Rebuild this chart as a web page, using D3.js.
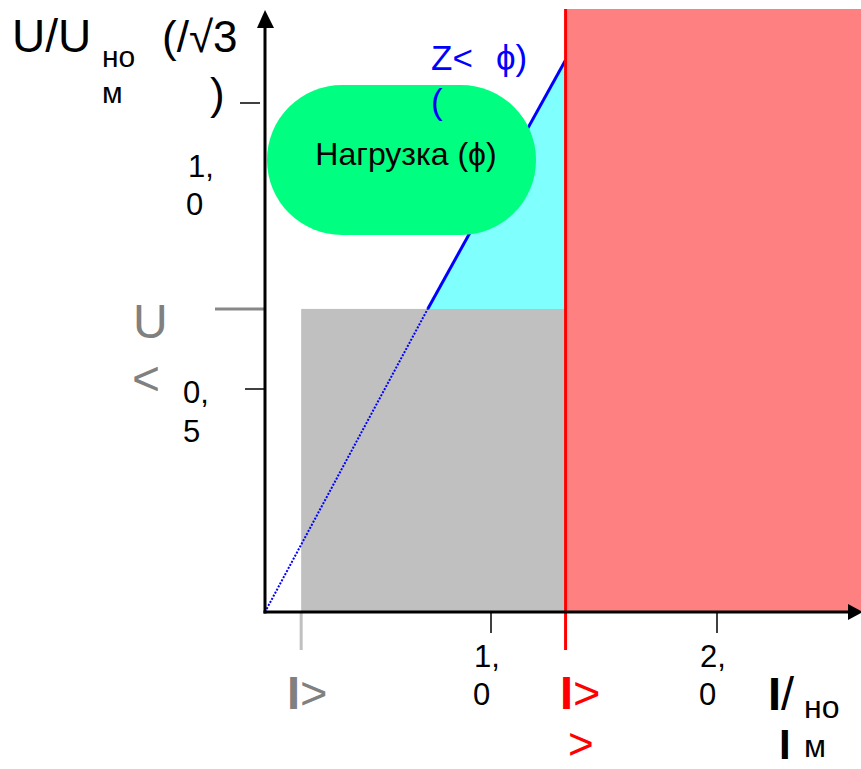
<!DOCTYPE html>
<html>
<head>
<meta charset="utf-8">
<script src="https://cdn.jsdelivr.net/npm/d3@7"></script>
<style>
  body { margin: 0; background: #fff; }
  svg { display: block; font-family: "Liberation Sans", Arial, sans-serif; }
</style>
</head>
<body>
<div id="wrapper"></div>
<script>
// values (I/Iном on x, U/Uном on y)
const xTicks = [1.0, 2.0]
const yTicks = [0.5, 1.0]
const xTickLabels = [["1,", "0"], ["2,", "0"]]
const yTickLabels = [["0,", "5"], ["1,", "0"]]

const iLow = 0.16      // I>
const iHigh = 1.33     // I>>
const uLow = 0.64      // U<
const zLine = [
  { i: 0, u: 0 },
  { i: 0.72, u: 0.64 },
  { i: 1.33, u: 1.075 },
]
const loadText = "Нагрузка (ϕ)"

function drawChart() {
  const width = 861
  const height = 769

  const svg = d3.select("#wrapper")
    .append("svg")
      .attr("width", width)
      .attr("height", height)

  // scales - y axis is not evenly spaced in the original, so piecewise
  const xScale = d3.scaleLinear()
    .domain([0, 2])
    .range([265, 717])
  const yScale = d3.scaleLinear()
    .domain([0, 0.5, 1])
    .range([612, 389, 103])

  const iMax = xScale.invert(width)
  const uMax = yScale.invert(9)

  // red zone (I>>)
  svg.append("rect")
    .attr("x", xScale(iHigh))
    .attr("y", yScale(uMax))
    .attr("width", xScale(iMax) - xScale(iHigh))
    .attr("height", yScale(0) - yScale(uMax))
    .attr("fill", "#ff8080")

  // gray zone (I> and U<)
  svg.append("rect")
    .attr("x", xScale(iLow))
    .attr("y", yScale(uLow))
    .attr("width", xScale(iHigh) - xScale(iLow))
    .attr("height", yScale(0) - yScale(uLow))
    .attr("fill", "#c0c0c0")

  // cyan triangle under Z< line
  const tri = [zLine[1], zLine[2], { i: zLine[2].i, u: zLine[1].u }]
  svg.append("path")
    .attr("d", d3.line().x(d => xScale(d.i)).y(d => yScale(d.u))(tri) + "Z")
    .attr("fill", "#80ffff")

  const lineGen = d3.line()
    .x(d => xScale(d.i))
    .y(d => yScale(d.u))

  svg.append("path")
    .attr("d", lineGen(zLine.slice(0, 2)))
    .attr("fill", "none")
    .attr("stroke", "#0000ff")
    .attr("stroke-width", 2)
    .attr("stroke-dasharray", "2,1.5")

  svg.append("path")
    .attr("d", lineGen(zLine.slice(1)))
    .attr("fill", "none")
    .attr("stroke", "#0000ff")
    .attr("stroke-width", 3)

  // load area
  svg.append("rect")
    .attr("x", 267)
    .attr("y", 85)
    .attr("width", 269)
    .attr("height", 150)
    .attr("rx", 75)
    .attr("ry", 75)
    .attr("fill", "#00ff80")
  svg.append("text")
    .attr("x", 406)
    .attr("y", 165)
    .attr("text-anchor", "middle")
    .style("font-size", "32px")
    .text(loadText)

  // red vertical I>> line
  svg.append("line")
    .attr("x1", xScale(iHigh)).attr("x2", xScale(iHigh))
    .attr("y1", yScale(uMax)).attr("y2", 650)
    .attr("stroke", "#ff0000")
    .attr("stroke-width", 3)

  // I> tick
  svg.append("line")
    .attr("x1", xScale(iLow)).attr("x2", xScale(iLow))
    .attr("y1", yScale(0)).attr("y2", 650)
    .attr("stroke", "#c0c0c0")
    .attr("stroke-width", 3)

  // U< tick
  svg.append("line")
    .attr("x1", 215).attr("x2", xScale(0))
    .attr("y1", yScale(uLow)).attr("y2", yScale(uLow))
    .attr("stroke", "#888888")
    .attr("stroke-width", 3)

  // axes with arrows
  svg.append("line")
    .attr("x1", xScale(0) - 1.5).attr("x2", 848)
    .attr("y1", yScale(0)).attr("y2", yScale(0))
    .attr("stroke", "#000").attr("stroke-width", 3)
  svg.append("path")
    .attr("d", `M848,604L863,612L848,620Z`)
    .attr("fill", "#000")
  svg.append("line")
    .attr("x1", xScale(0)).attr("x2", xScale(0))
    .attr("y1", yScale(0) + 1.5).attr("y2", 26)
    .attr("stroke", "#000").attr("stroke-width", 3)
  svg.append("path")
    .attr("d", `M257,28L265,10L274,28Z`)
    .attr("fill", "#000")

  // x ticks
  svg.selectAll(".xtick")
    .data(xTicks)
    .join("line")
      .attr("class", "xtick")
      .attr("x1", d => xScale(d)).attr("x2", d => xScale(d))
      .attr("y1", yScale(0)).attr("y2", 633)
      .attr("stroke", "#000").attr("stroke-width", 1.5)

  const xLab = svg.selectAll(".xlab")
    .data(xTicks)
    .join("text")
      .attr("class", "xlab")
      .style("font-size", "31px")
  xLab.append("tspan")
    .attr("x", d => xScale(d) - 17)
    .attr("y", 667)
    .text((d, i) => xTickLabels[i][0])
  xLab.append("tspan")
    .attr("x", d => xScale(d) - 18)
    .attr("y", 705)
    .text((d, i) => xTickLabels[i][1])

  // y ticks
  svg.selectAll(".ytick")
    .data(yTicks)
    .join("line")
      .attr("class", "ytick")
      .attr("x1", d => d === 1 ? 240 : 245)
      .attr("x2", d => d === 1 ? 260 : 265)
      .attr("y1", d => yScale(d)).attr("y2", d => yScale(d))
      .attr("stroke", "#000").attr("stroke-width", 1.5)

  // labels sit oddly below their ticks in the original
  const yLabOffset = [[14, 53], [74, 112]]
  const yLabX = [[183, 183], [188, 186]]
  const yLab = svg.selectAll(".ylab")
    .data(yTicks)
    .join("text")
      .attr("class", "ylab")
      .style("font-size", "31px")
  yLab.append("tspan")
    .attr("x", (d, i) => yLabX[i][0])
    .attr("y", (d, i) => yScale(d) + yLabOffset[i][0])
    .text((d, i) => yTickLabels[i][0])
  yLab.append("tspan")
    .attr("x", (d, i) => yLabX[i][1])
    .attr("y", (d, i) => yScale(d) + yLabOffset[i][1])
    .text((d, i) => yTickLabels[i][1])

  // y axis title
  svg.append("text").attr("x", 12).attr("y", 52).style("font-size", "46px").text("U/U")
  svg.append("text").attr("x", 102).attr("y", 67).style("font-size", "30px").text("но")
  svg.append("text").attr("x", 102).attr("y", 103).style("font-size", "30px").text("м")
  svg.append("text").attr("x", 162).attr("y", 52).style("font-size", "44px").text("(/√3")
  svg.append("text").attr("x", 210).attr("y", 109).style("font-size", "44px").text(")")

  // x axis title
  svg.append("text").attr("x", 768).attr("y", 710).style("font-size", "47px")
    .html('<tspan font-weight="bold">I</tspan>/')
  svg.append("text").attr("x", 804).attr("y", 718).style("font-size", "32px").text("но")
  svg.append("text").attr("x", 779).attr("y", 759).style("font-size", "42px")
    .attr("font-weight", "bold").text("I")
  svg.append("text").attr("x", 804).attr("y", 757).style("font-size", "32px").text("м")

  // U< label
  svg.append("text").attr("x", 133).attr("y", 338).attr("fill", "#808080")
    .style("font-size", "48px").text("U")
  svg.append("text").attr("x", 132).attr("y", 395).attr("fill", "#808080")
    .style("font-size", "48px").text("<")

  // I> label
  svg.append("text").attr("x", 287).attr("y", 709).attr("fill", "#808080")
    .style("font-size", "47px")
    .html('<tspan font-weight="bold">I</tspan>&gt;')

  // I>> label
  svg.append("text").attr("x", 560).attr("y", 709).attr("fill", "#ff0000")
    .style("font-size", "47px")
    .html('<tspan font-weight="bold">I</tspan>&gt;')
  svg.append("text").attr("x", 568).attr("y", 759).attr("fill", "#ff0000")
    .style("font-size", "44px").text(">")

  // Z< label
  const zLab = svg.append("text").attr("y", 70).attr("fill", "#0000ff")
    .style("font-size", "35px")
  zLab.append("tspan").attr("x", 431).text("Z<")
  zLab.append("tspan").attr("x", 496).text("ϕ)")
  svg.append("text").attr("x", 431).attr("y", 114).attr("fill", "#0000ff")
    .style("font-size", "35px").text("(")
}

drawChart()
</script>
</body>
</html>
